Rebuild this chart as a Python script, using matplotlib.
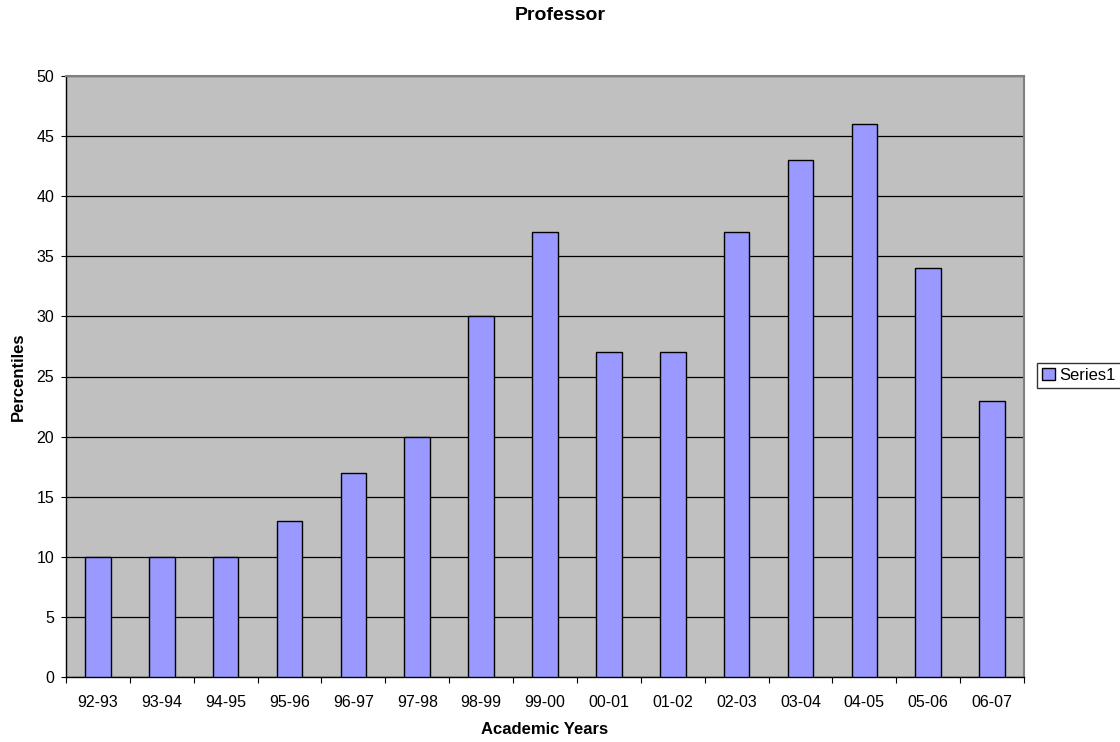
import matplotlib.pyplot as plt
import numpy as np

plt.rcParams['font.family'] = ['Liberation Sans', 'DejaVu Sans']

# Data
years = ['92-93', '93-94', '94-95', '95-96', '96-97', '97-98', '98-99', '99-00',
         '00-01', '01-02', '02-03', '03-04', '04-05', '05-06', '06-07']
percentiles = [10, 10, 10, 13, 17, 20, 30, 37, 27, 27, 37, 43, 46, 34, 23]

fig = plt.figure(figsize=(11.2, 7.42), dpi=100)
ax = fig.add_axes([66 / 1120, 1 - 677 / 742, 958 / 1120, 601 / 742])
ax.set_facecolor('#C0C0C0')

x = np.arange(len(years))
ax.bar(x, percentiles, width=0.4, color='#9999FF', edgecolor='black',
       linewidth=1.0, label='Series1', zorder=3)

ax.set_xlim(-0.5, len(years) - 0.5)
ax.set_ylim(0, 50)
ax.set_yticks(np.arange(0, 51, 5))
ax.yaxis.grid(True, color='black', linewidth=0.9, zorder=1)
ax.set_axisbelow(True)

# ticks between categories, labels centered under bars
ax.set_xticks(np.arange(-0.5, len(years), 1))
ax.set_xticklabels([])
ax.set_xticks(x, minor=True)
ax.set_xticklabels(years, minor=True)
ax.tick_params(axis='x', which='minor', length=0, labelsize=11.5, pad=13)
ax.tick_params(axis='x', which='major', length=4, direction='out', color='black')
ax.tick_params(axis='y', length=3.5, direction='out', labelsize=11.5, pad=5)

for side in ['top', 'right']:
    ax.spines[side].set_color('#808080')
    ax.spines[side].set_linewidth(1.5)
for side in ['left', 'bottom']:
    ax.spines[side].set_color('black')
    ax.spines[side].set_linewidth(1.0)

fig.text(0.5, 1 - 15 / 742, 'Professor', fontsize=14, fontweight='bold',
         ha='center', va='center')
ax.set_xlabel('Academic Years', fontsize=12, fontweight='bold')
ax.set_ylabel('Percentiles', fontsize=12, fontweight='bold')
ax.xaxis.set_label_coords(0.5, (677 - 730) / 601)
ax.yaxis.set_label_coords((18 - 66) / 958, 0.5)
ax.xaxis.label.set_va('center')
ax.yaxis.label.set_va('center')

leg = fig.legend(loc='upper left', bbox_to_anchor=(1037 / 1120, 1 - 363 / 742),
                 frameon=True, fancybox=False, edgecolor='black', fontsize=12,
                 handlelength=0.75, handleheight=0.75, handletextpad=0.3,
                 borderpad=0.3, borderaxespad=0)
leg.get_frame().set_linewidth(1.0)

fig.savefig('out.png', dpi=100)
